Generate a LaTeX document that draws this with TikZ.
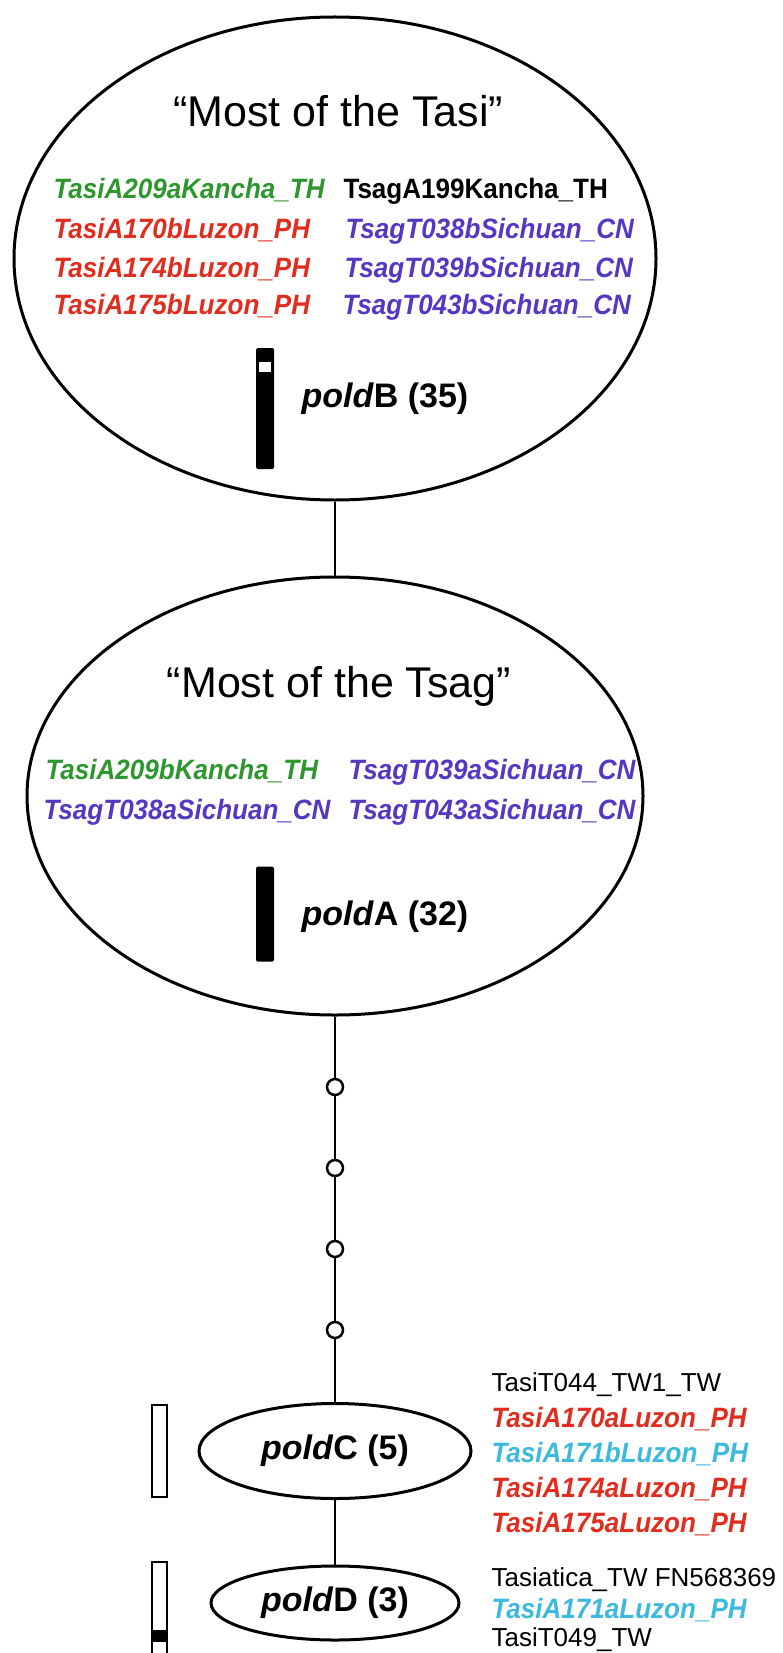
\documentclass[tikz,border=0pt]{standalone}
\usepackage{fontspec}
\setmainfont{Liberation Sans}
\newfontfamily\namefont[FakeStretch=0.93]{Liberation Sans}
\usetikzlibrary{shapes.geometric}
\definecolor{kgreen}{RGB}{45,150,45}
\definecolor{lzred}{RGB}{225,45,30}
\definecolor{schpurple}{RGB}{85,55,195}
\definecolor{lzcyan}{RGB}{60,185,222}
\begin{document}
\begin{tikzpicture}[x=1pt,y=-1pt,
  big/.style={ellipse, draw, line width=3pt, inner sep=0pt},
  small/.style={ellipse, draw, line width=3pt, inner sep=0pt,
    font=\fontsize{34}{38}\selectfont\bfseries},
  conn/.style={line width=2.7pt},
  hap/.style={circle, draw, fill=white, line width=2.5pt, minimum size=16pt, inner sep=0pt},
  grouptitle/.style={font=\fontsize{43}{48}\selectfont, anchor=base},
  strain/.style={font=\namefont\fontsize{28}{30}\selectfont\bfseries\itshape, anchor=base west},
  strainup/.style={font=\namefont\fontsize{28}{30}\selectfont\bfseries, anchor=base west},
  plainname/.style={font=\fontsize{26}{30}\selectfont, anchor=base west},
  hlabel/.style={font=\fontsize{34}{38}\selectfont\bfseries, anchor=base west},
  solidbar/.style={fill=black, rounded corners=1.5pt, inner sep=0pt, minimum width=18pt},
  openbar/.style={draw, fill=white, line width=2.6pt, inner sep=0pt, minimum width=15pt},
  gap/.style={fill=white, inner sep=0pt},
  band/.style={fill=black, inner sep=0pt}]
\useasboundingbox (0,0) rectangle (783,1653);
\clip (0,0) rectangle (783,1653);

% haplotype groups
\node[big, minimum width=642pt, minimum height=483pt] (tasi) at (335,258.5) {};
\node[big, minimum width=616pt, minimum height=438pt] (tsag) at (335,796) {};
\node[small, minimum width=272pt, minimum height=95pt] (hC) at (335,1451) {\textit{pold}C (5)};
\node[small, minimum width=248pt, minimum height=74pt] (hD) at (335,1603) {\textit{pold}D (3)};

% missing intermediate haplotypes
\node[hap] (m1) at (335,1087) {};
\node[hap] (m2) at (335,1168) {};
\node[hap] (m3) at (335,1249) {};
\node[hap] (m4) at (335,1330) {};

% links
\draw[conn] (tasi.south) -- (tsag.north);
\draw[conn] (tsag.south) -- (m1);
\draw[conn] (m1) -- (m2);
\draw[conn] (m2) -- (m3);
\draw[conn] (m3) -- (m4);
\draw[conn] (m4) -- (hC.north);
\draw[conn] (hC.south) -- (hD.north);

% group "Most of the Tasi"
\node[grouptitle] (t1) at (338,127) {“Most of the Tasi”};
\node[strain, text=kgreen] (a1) at (50,199) {TasiA209aKancha\_TH};
\node[strainup] (b1) at (340,199) {TsagA199Kancha\_TH};
\node[strain, text=lzred] (a2) at (50,239) {TasiA170bLuzon\_PH};
\node[strain, text=schpurple] (b2) at (342,239) {TsagT038bSichuan\_CN};
\node[strain, text=lzred] (a3) at (50,277) {TasiA174bLuzon\_PH};
\node[strain, text=schpurple] (b3) at (341,277) {TsagT039bSichuan\_CN};
\node[strain, text=lzred] (a4) at (50,314) {TasiA175bLuzon\_PH};
\node[strain, text=schpurple] (b4) at (339,314) {TsagT043bSichuan\_CN};
\node[solidbar, minimum height=121pt] (barB) at (265,408.5) {};
\node[gap, minimum width=12pt, minimum height=10pt] (gapB) at (265,367) {};
\node[hlabel] (lB) at (298,407) {\textit{pold}B (35)};

% group "Most of the Tsag"
\node[grouptitle] (t2) at (339,697) {“Most of the Tsag”};
\node[strain, text=kgreen] (c1) at (42,779) {TasiA209bKancha\_TH};
\node[strain, text=schpurple] (d1) at (345,779) {TsagT039aSichuan\_CN};
\node[strain, text=schpurple] (c2) at (40,819) {TsagT038aSichuan\_CN};
\node[strain, text=schpurple] (d2) at (345,819) {TsagT043aSichuan\_CN};
\node[solidbar, minimum height=95pt] (barA) at (265,914) {};
\node[hlabel] (lA) at (298,925) {\textit{pold}A (32)};

% haplotype C
\node[openbar, minimum height=92pt] (barC) at (159.5,1451) {};
\node[plainname] (e1) at (488,1391) {TasiT044\_TW1\_TW};
\node[strain, text=lzred] (e2) at (488,1427) {TasiA170aLuzon\_PH};
\node[strain, text=lzcyan] (e3) at (488,1462) {TasiA171bLuzon\_PH};
\node[strain, text=lzred] (e4) at (488,1497) {TasiA174aLuzon\_PH};
\node[strain, text=lzred] (e5) at (488,1532) {TasiA175aLuzon\_PH};

% haplotype D
\node[openbar, minimum height=120pt] (barD) at (159.5,1622) {};
\node[band, minimum width=15pt, minimum height=12pt] (bandD) at (159.5,1636) {};
\node[plainname] (f1) at (488,1586) {Tasiatica\_TW FN568369};
\node[strain, text=lzcyan] (f2) at (488,1618) {TasiA171aLuzon\_PH};
\node[plainname] (f3) at (488,1646) {TasiT049\_TW};
\end{tikzpicture}
\end{document}
